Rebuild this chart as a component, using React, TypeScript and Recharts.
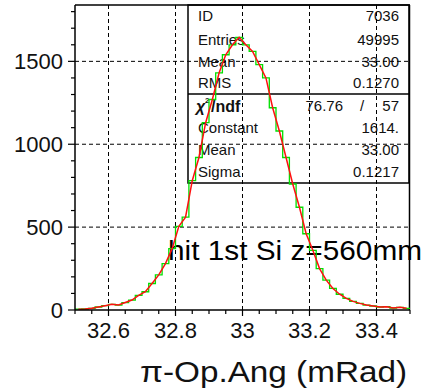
import React from 'react';
import { ComposedChart, Line, XAxis, YAxis, ReferenceLine } from 'recharts';

// histogram: 50 bins of 0.02 between 32.5 and 33.5
const binLow = 32.5;
const binWidth = 0.02;
const counts = [
  5, 6, 10, 18, 26, 34, 30, 45, 60, 88,
  110, 160, 212, 280, 370, 505, 560, 780, 920, 1130,
  1270, 1430, 1540, 1600, 1645, 1600, 1560, 1480, 1400, 1220,
  1080, 920, 760, 620, 460, 360, 250, 180, 130, 95,
  70, 52, 40, 30, 24, 18, 20, 12, 16, 10,
];

const xTicks = [
  32.5, 32.55, 32.6, 32.65, 32.7, 32.75, 32.8, 32.85, 32.9, 32.95, 33,
  33.05, 33.1, 33.15, 33.2, 33.25, 33.3, 33.35, 33.4, 33.45, 33.5,
];
const xMajor = [32.6, 32.8, 33, 33.2, 33.4];
const yTicks = [0, 100, 200, 300, 400, 500, 600, 700, 800, 900, 1000, 1100, 1200, 1300, 1400, 1500, 1600, 1700, 1800];
const yMajor = [0, 500, 1000, 1500];

const statLabels = ['ID', 'Entries', 'Mean', 'RMS'];
const statValues = ['7036', '49995', '33.00', '0.1270'];
const fitLabels = ['Constant', 'Mean', 'Sigma'];
const fitValues = ['1614.', '33.00', '0.1217'];
const chi2 = '76.76';
const ndf = '57';

const histPts = counts
  .map((c, i) => ({ x: +(binLow + i * binWidth).toFixed(2), h: c }))
  .concat([{ x: +(binLow + counts.length * binWidth).toFixed(2), h: counts[counts.length - 1] }]);
const fitPts = counts.map((c, i) => ({ x: +(binLow + (i + 0.5) * binWidth).toFixed(3), f: c }));

const FONT = '"Liberation Sans", Arial, sans-serif';
const isMajor = (list: number[], v: number) => list.some(m => Math.abs(m - v) < 1e-6);

function XTick(props: any) {
  const { x, y, payload } = props;
  const major = isMajor(xMajor, payload.value);
  return (
    <g>
      <line x1={x} x2={x} y1={y} y2={y + (major ? 6 : 4)} stroke="#000" strokeWidth={1.2} />
      {major && (
        <text x={x} y={y + 28} textAnchor="middle" fontSize={22} fontFamily={FONT} fill="#111">
          {String(payload.value)}
        </text>
      )}
    </g>
  );
}

function YTick(props: any) {
  const { x, y, payload } = props;
  const major = isMajor(yMajor, payload.value);
  return (
    <g>
      <line x1={x} x2={x - (major ? 7 : 4)} y1={y} y2={y} stroke="#000" strokeWidth={1.2} />
      {major && (
        <text x={x - 12} y={y + 8} textAnchor="end" fontSize={22} fontFamily={FONT} fill="#111">
          {String(payload.value)}
        </text>
      )}
    </g>
  );
}

function Overlay() {
  const rowY = [21, 45, 67, 88];
  const fitY = [133, 155, 177];
  return (
    <svg width={424} height={390} style={{ position: 'absolute', left: 0, top: 0 }}>
      {/* frame top/right */}
      <line x1={75} x2={410} y1={5} y2={5} stroke="#000" strokeWidth={1.5} />
      <line x1={409.5} x2={409.5} y1={5} y2={310} stroke="#000" strokeWidth={1.5} />
      {/* stats box */}
      <rect x={188} y={5} width={221} height={178} fill="none" stroke="#000" strokeWidth={1.5} />
      <line x1={188} x2={409} y1={94} y2={94} stroke="#000" strokeWidth={1.5} />
      <g fontFamily={FONT} fontSize={15} fill="#111">
        {statLabels.map((l, i) => (
          <text key={'l' + i} x={198} y={rowY[i]}>{l}</text>
        ))}
        {statValues.map((v, i) => (
          <text key={'v' + i} x={399} y={rowY[i]} textAnchor="end">{v}</text>
        ))}
        <text x={196} y={112} fontWeight="bold" fontSize={16} fontStyle="italic">χ</text>
        <text x={205} y={103} fontWeight="bold" fontSize={8}>2</text>
        <text x={211} y={112} fontWeight="bold" fontSize={16}>/ndf</text>
        <text x={343} y={111} textAnchor="end">{chi2}</text>
        <text x={362} y={111} textAnchor="middle">/</text>
        <text x={399} y={111} textAnchor="end">{ndf}</text>
        {fitLabels.map((l, i) => (
          <text key={'fl' + i} x={198} y={fitY[i]}>{l}</text>
        ))}
        {fitValues.map((v, i) => (
          <text key={'fv' + i} x={399} y={fitY[i]} textAnchor="end">{v}</text>
        ))}
      </g>
      <text x={168} y={260} fontFamily={FONT} fontSize={27} fill="#000" textLength={254} lengthAdjust="spacingAndGlyphs">
        hit 1st Si z=560mm
      </text>
      <text x={140} y={382} fontFamily={FONT} fontSize={29} fill="#111" textLength={267} lengthAdjust="spacingAndGlyphs">
        π-Op.Ang (mRad)
      </text>
    </svg>
  );
}

export default function App() {
  return (
    <div style={{ position: 'absolute', left: 0, top: 0, width: 424, height: 390, background: '#fff', overflow: 'hidden' }}>
      <Overlay />
      <div style={{ position: 'absolute', left: 0, top: 0 }}>
        <ComposedChart width={424} height={390} margin={{ top: 5, right: 14, left: 0, bottom: 0 }}>
          <XAxis
            dataKey="x"
            type="number"
            domain={[32.5, 33.5]}
            ticks={xTicks}
            interval={0}
            height={80}
            tickSize={0}
            tickMargin={0}
            tickLine={false}
            tick={<XTick />}
            axisLine={{ stroke: '#000', strokeWidth: 1.5 }}
            allowDataOverflow
          />
          <YAxis
            type="number"
            domain={[0, 1840]}
            ticks={yTicks}
            interval={0}
            width={75}
            tickSize={0}
            tickMargin={0}
            tickLine={false}
            tick={<YTick />}
            axisLine={{ stroke: '#000', strokeWidth: 1.5 }}
            allowDataOverflow
          />
          {xMajor.map(v => (
            <ReferenceLine key={'gx' + v} x={v} stroke="#000" strokeWidth={1} strokeDasharray="4 3" />
          ))}
          {yMajor.filter(v => v > 0).map(v => (
            <ReferenceLine key={'gy' + v} y={v} stroke="#000" strokeWidth={1} strokeDasharray="4 3" />
          ))}
          <Line
            data={histPts}
            dataKey="h"
            type="stepAfter"
            stroke="#00e000"
            strokeWidth={1.3}
            dot={false}
            isAnimationActive={false}
          />
          <Line
            data={fitPts}
            dataKey="f"
            type="linear"
            stroke="#ff1010"
            strokeWidth={1.5}
            dot={false}
            isAnimationActive={false}
          />
        </ComposedChart>
      </div>
    </div>
  );
}
